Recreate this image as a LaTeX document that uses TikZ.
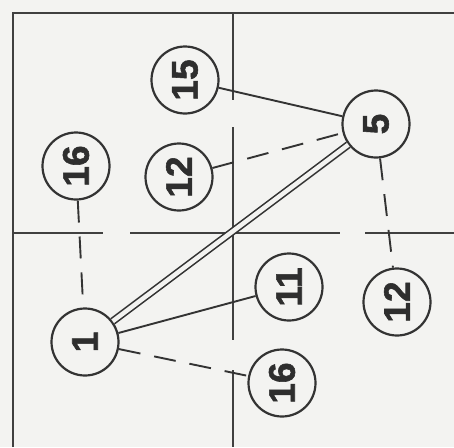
\documentclass[tikz,border=0pt]{standalone}
\usepackage{fontspec}
\setmainfont{Liberation Sans}
\newfontfamily\numfont[FakeBold=1.5]{Liberation Sans Bold}
\begin{document}
\begin{tikzpicture}[x=1pt,y=-1pt,
  ink/.style={draw=black!80},
  nd/.style={circle,ink,line width=2.2pt,minimum size=67pt,inner sep=0pt,fill=bgc,rotate=90,font=\fontsize{37}{37}\numfont,text=black!82},
  solidedge/.style={ink,line width=1.9pt},
  dashedge/.style={ink,line width=1.9pt,dash pattern=on 22pt off 14pt},
  dbledge/.style={ink,line width=1.6pt,double=bgc,double distance=4.5pt},
  grid/.style={draw=black!75,line width=1.5pt},
  frame/.style={draw=black!75,line width=2pt}]
\definecolor{bgc}{HTML}{F3F3F1}
\fill[bgc] (0,0) rectangle (454,447);
\useasboundingbox (0,0) rectangle (454,447);
% frame
\draw[frame] (13,447) -- (13,13) -- (454,13);
% grid lines
\draw[grid] (233,13) -- (233,100);
\draw[grid] (233,127) -- (233,340);
\draw[grid] (233,370) -- (233,447);
\draw[grid] (13,233) -- (103,233);
\draw[grid] (130,233) -- (340,233);
\draw[grid] (365,233) -- (454,233);
% nodes
\node[nd] (n15) at (185,80) {15};
\node[nd] (n5) at (376,124) {5};
\node[nd] (n16a) at (76,166) {16};
\node[nd] (n12a) at (179,177) {12};
\node[nd] (n11) at (289,287) {11};
\node[nd] (n12b) at (397,302) {12};
\node[nd] (n1) at (85,342) {1};
\node[nd] (n16b) at (282,383) {16};
% edges
\draw[solidedge] (n15) -- (n5);
\draw[dashedge] (n12a) -- (n5);
\draw[dbledge] (n1) -- (n5);
\draw[dashedge] (n5) -- (n12b);
\draw[dashedge] (n16a) -- (n1);
\draw[solidedge] (n1) -- (n11);
\draw[dashedge] (n1) -- (n16b);
\end{tikzpicture}
\end{document}
